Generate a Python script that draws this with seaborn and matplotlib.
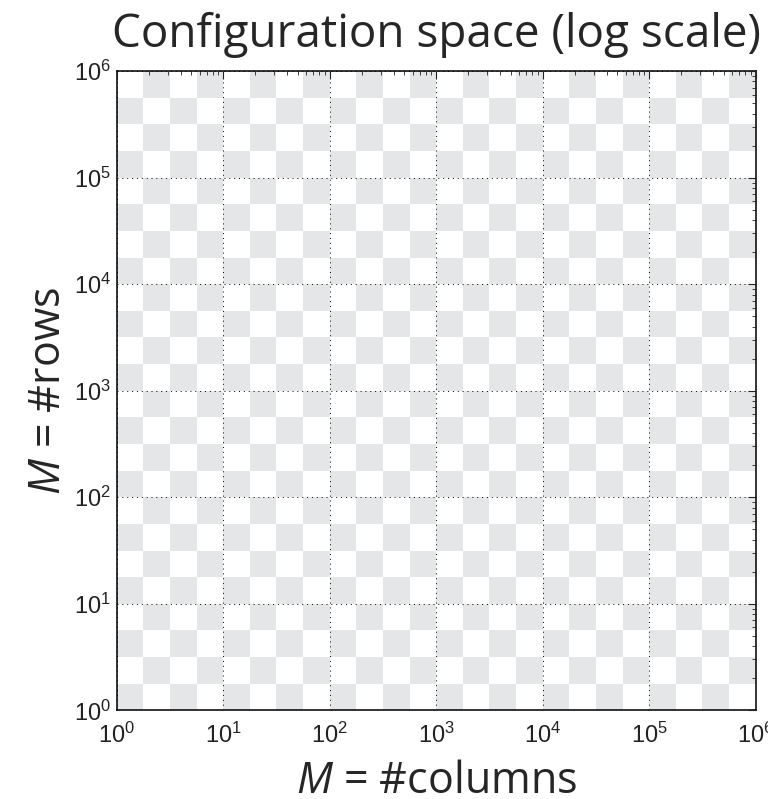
import numpy as np
import matplotlib
matplotlib.use("Agg")
import matplotlib.pyplot as plt
import seaborn as sns
from matplotlib.colors import ListedColormap

# Checkerboard cell edges, as exponents of 10 (quarter decades)
x_edge_exp = [0.0, 0.25, 0.5, 0.75, 1.0, 1.25, 1.5, 1.75, 2.0, 2.25, 2.5, 2.75,
              3.0, 3.25, 3.5, 3.75, 4.0, 4.25, 4.5, 4.75, 5.0, 5.25, 5.5, 5.75, 6.0]
y_edge_exp = [0.0, 0.25, 0.5, 0.75, 1.0, 1.25, 1.5, 1.75, 2.0, 2.25, 2.5, 2.75,
              3.0, 3.25, 3.5, 3.75, 4.0, 4.25, 4.5, 4.75, 5.0, 5.25, 5.5, 5.75, 6.0]
cell_colors = ["#ffffff", "#e5e6e8"]  # white, light gray

title = "Configuration space (log scale)"
xlabel = "$M$ = #columns"
ylabel = "$M$ = #rows"

sns.set_style("white")
plt.rcParams["font.family"] = ["Liberation Sans", "DejaVu Sans"]
plt.rcParams["mathtext.fontset"] = "custom"
plt.rcParams["mathtext.rm"] = "Liberation Sans"
plt.rcParams["mathtext.it"] = "Open Sans:italic"

x_edges = np.power(10.0, x_edge_exp)
y_edges = np.power(10.0, y_edge_exp)
nx, ny = len(x_edges) - 1, len(y_edges) - 1
# bottom-left cell is gray; alternate like a chess board
pattern = (np.add.outer(np.arange(ny), np.arange(nx)) + 1) % 2

fig = plt.figure(figsize=(7.68, 7.99), dpi=100)
ax = fig.add_axes([0.152, 0.111, 0.832, 0.800])
ax.pcolormesh(x_edges, y_edges, pattern, cmap=ListedColormap(cell_colors),
              vmin=0, vmax=1, shading="flat", zorder=0)
ax.set_xscale("log")
ax.set_yscale("log")
ax.set_xlim(x_edges[0], x_edges[-1])
ax.set_ylim(y_edges[0], y_edges[-1])

ax.grid(True, which="major", color="k", linestyle=(0, (1, 4)), linewidth=0.7)
ax.set_axisbelow(False)
ax.tick_params(which="both", direction="in", top=True, right=True,
               labelsize=17, colors="#222222")
ax.tick_params(which="major", length=6, width=0.8, pad=4)
ax.tick_params(which="minor", length=3, width=0.6)
ax.tick_params(axis="x", which="major", pad=9)
for s in ax.spines.values():
    s.set_color("#111111")
    s.set_linewidth(1.2)

ax.set_title(title, fontsize=33, family="Open Sans", pad=17)
ax.set_xlabel(xlabel, fontsize=31, family="Open Sans", labelpad=8)
ax.set_ylabel(ylabel, fontsize=31, family="Open Sans", labelpad=2)

fig.savefig("out.png", dpi=100)
